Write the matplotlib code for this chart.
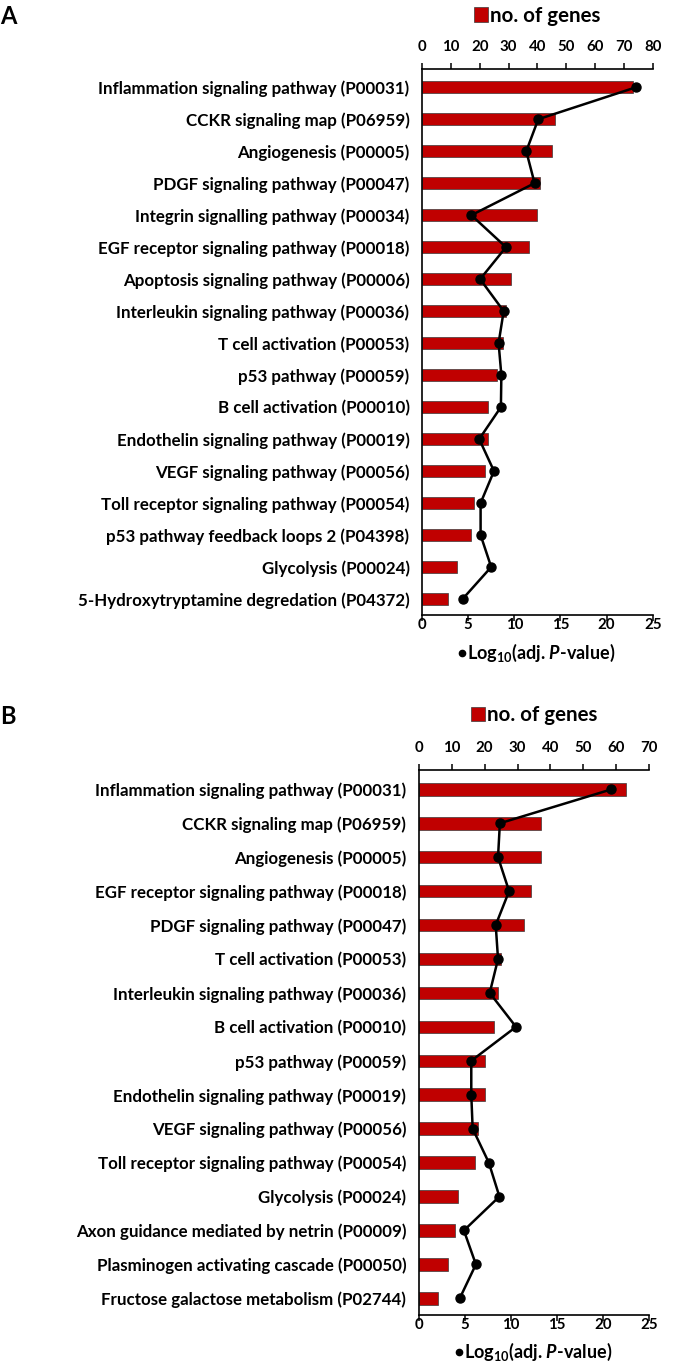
import matplotlib
matplotlib.use("Agg")
import matplotlib.pyplot as plt
from matplotlib.patches import Patch
from matplotlib.lines import Line2D

plt.rcParams['font.family'] = ['Lato', 'DejaVu Sans']
plt.rcParams['font.weight'] = 'bold'
plt.rcParams['mathtext.fontset'] = 'custom'
plt.rcParams['mathtext.rm'] = 'Lato:bold'
plt.rcParams['mathtext.it'] = 'Lato:bold:italic'
plt.rcParams['mathtext.bf'] = 'Lato:bold'

# ---------------- Data ----------------
pathways_a = [
    "Inflammation signaling pathway (P00031)",
    "CCKR signaling map (P06959)",
    "Angiogenesis (P00005)",
    "PDGF signaling pathway (P00047)",
    "Integrin signalling pathway (P00034)",
    "EGF receptor signaling pathway (P00018)",
    "Apoptosis signaling pathway (P00006)",
    "Interleukin signaling pathway (P00036)",
    "T cell activation (P00053)",
    "p53 pathway (P00059)",
    "B cell activation (P00010)",
    "Endothelin signaling pathway (P00019)",
    "VEGF signaling pathway (P00056)",
    "Toll receptor signaling pathway (P00054)",
    "p53 pathway feedback loops 2 (P04398)",
    "Glycolysis (P00024)",
    "5-Hydroxytryptamine degredation (P04372)",
]
genes_a = [73, 46, 45, 41, 40, 37, 31, 29, 28, 26, 23, 23, 22, 18, 17, 12, 9]
logp_a = [23.2, 12.6, 11.3, 12.2, 5.35, 9.1, 6.3, 8.85, 8.3, 8.6, 8.55, 6.2, 7.8, 6.35, 6.35, 7.5, 4.4]

pathways_b = [
    "Inflammation signaling pathway (P00031)",
    "CCKR signaling map (P06959)",
    "Angiogenesis (P00005)",
    "EGF receptor signaling pathway (P00018)",
    "PDGF signaling pathway (P00047)",
    "T cell activation (P00053)",
    "Interleukin signaling pathway (P00036)",
    "B cell activation (P00010)",
    "p53 pathway (P00059)",
    "Endothelin signaling pathway (P00019)",
    "VEGF signaling pathway (P00056)",
    "Toll receptor signaling pathway (P00054)",
    "Glycolysis (P00024)",
    "Axon guidance mediated by netrin (P00009)",
    "Plasminogen activating cascade (P00050)",
    "Fructose galactose metabolism (P02744)",
]
genes_b = [63, 37, 37, 34, 32, 25, 24, 23, 20, 20, 18, 17, 12, 11, 9, 6]
logp_b = [20.9, 8.8, 8.6, 9.8, 8.35, 8.6, 7.7, 10.55, 5.7, 5.7, 5.85, 7.6, 8.75, 4.9, 6.2, 4.45]

gene_ticks_a = [0, 10, 20, 30, 40, 50, 60, 70, 80]
gene_ticks_b = [0, 10, 20, 30, 40, 50, 60, 70]
logp_ticks = [0, 5, 10, 15, 20, 25]

BAR = '#C00000'
W, H = 685, 1370

fig = plt.figure(figsize=(W / 100, H / 100), dpi=100)


def panel(rect, labels, genes, logp, gticks, letter, letter_y, leg_top_y, leg_bot_y, center_x):
    ax = fig.add_axes(rect)
    n = len(labels)
    ys = list(range(n))
    ax.barh(ys, genes, height=0.37, color=BAR, edgecolor='#3a3a3a', linewidth=0.5, zorder=2)
    ax.set_xlim(gticks[0], gticks[-1])
    ax.set_ylim(n - 0.5, -0.57)
    ax.set_yticks(ys)
    ax.set_yticklabels(labels, fontsize=12.2, fontweight='bold')
    ax.tick_params(axis='y', length=0, pad=9)

    ax2 = ax.twiny()
    ax2.plot(logp, ys, color='black', lw=1.8, marker='o', ms=6.5, zorder=3)
    ax2.set_xlim(logp_ticks[0], logp_ticks[-1])
    ax2.set_ylim(n - 0.5, -0.57)
    ax2.xaxis.set_ticks_position('bottom')
    ax2.xaxis.set_label_position('bottom')
    ax2.set_xticks(logp_ticks)
    ax2.set_xticklabels([str(t) for t in logp_ticks], fontsize=10.8, fontweight='bold')
    ax2.tick_params(axis='x', direction='out', length=4, width=1.1, pad=-2)
    for s in ['right', 'top', 'left']:
        ax2.spines[s].set_visible(False)
    ax2.spines['bottom'].set_linewidth(1.2)

    ax.xaxis.set_ticks_position('top')
    ax.xaxis.set_label_position('top')
    ax.set_xticks(gticks)
    ax.set_xticklabels([str(t) for t in gticks], fontsize=10.8, fontweight='bold')
    ax.tick_params(axis='x', direction='out', length=4, width=1.1, pad=7)
    for s in ['right', 'bottom']:
        ax.spines[s].set_visible(False)
    for s in ['top', 'left']:
        ax.spines[s].set_linewidth(1.2)

    fig.text(0.0, 1 - letter_y / H, letter, fontsize=17, fontweight='bold', va='center', ha='left')

    fig.legend(handles=[Patch(facecolor=BAR, edgecolor='#3a3a3a', linewidth=0.5)],
               labels=['no. of genes'], loc='center', frameon=False,
               bbox_to_anchor=(center_x / W, 1 - leg_top_y / H),
               handlelength=0.7, handleheight=0.7, handletextpad=0.1,
               prop={'family': ['Lato', 'DejaVu Sans'], 'weight': 'bold', 'size': 14.8})
    fig.legend(handles=[Line2D([], [], color='black', marker='o', ms=4.5, lw=0)],
               labels=[r'Log$_{10}$(adj. $P$-value)'], loc='center', frameon=False,
               bbox_to_anchor=(center_x / W, 1 - leg_bot_y / H),
               handlelength=0.4, handletextpad=0.05,
               prop={'family': ['Lato', 'DejaVu Sans'], 'weight': 'bold', 'size': 13.0})
    return ax, ax2


panel([422 / W, 1 - 615 / H, 230.7 / W, 546 / H], pathways_a, genes_a, logp_a,
      gene_ticks_a, 'A', 17, 15.7, 653, 537)
panel([418.7 / W, 1 - 1315.3 / H, 230.6 / W, 545.3 / H], pathways_b, genes_b, logp_b,
      gene_ticks_b, 'B', 717, 715, 1352, 534)

fig.savefig('out.png', dpi=100)
